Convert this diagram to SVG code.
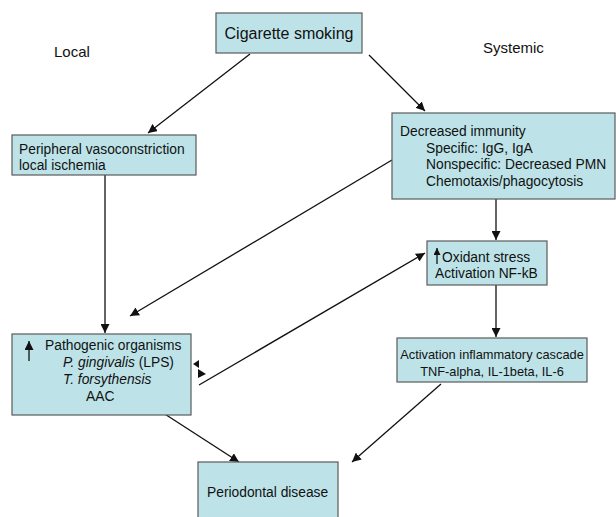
<svg xmlns="http://www.w3.org/2000/svg" width="616" height="517" viewBox="0 0 616 517">
<defs>
<style>
.box{fill:#bde3e8;stroke:#5a5a5a;stroke-width:1.2}
.t{font-family:"Liberation Sans",Arial,sans-serif;font-size:13.8px;fill:#111}
.big{font-size:16px}
.lbl{font-size:15px}
.sm{font-size:12.8px}
.c{stroke:#111;stroke-width:1.3;fill:none}
</style>
<marker id="ah" viewBox="0 0 10 10" refX="10" refY="5" markerWidth="9" markerHeight="9" markerUnits="userSpaceOnUse" orient="auto">
<path d="M0,0 L10,5 L0,10 z" fill="#111"/>
</marker>
<marker id="ahs" viewBox="0 0 10 10" refX="10" refY="5" markerWidth="7" markerHeight="7" markerUnits="userSpaceOnUse" orient="auto">
<path d="M0,0 L10,5 L0,10 z" fill="#111"/>
</marker>
</defs>
<rect width="616" height="517" fill="#fff"/>
<text class="t lbl" x="54" y="57">Local</text>
<text class="t lbl" x="483" y="53">Systemic</text>
<g id="connectors">
<line class="c" x1="250" y1="54" x2="148" y2="133" marker-end="url(#ah)"/>
<line class="c" x1="369" y1="55" x2="425" y2="111" marker-end="url(#ah)"/>
<line class="c" x1="105" y1="175" x2="105" y2="333" marker-end="url(#ah)"/>
<line class="c" x1="392" y1="160" x2="130" y2="316" marker-end="url(#ah)"/>
<line class="c" x1="496" y1="199" x2="496" y2="240" marker-end="url(#ah)"/>
<line class="c" x1="199" y1="385" x2="425" y2="253" marker-end="url(#ah)"/>
<line class="c" x1="496" y1="285" x2="496" y2="337" marker-end="url(#ah)"/>
<line class="c" x1="140" y1="398" x2="239" y2="462" marker-end="url(#ah)"/>
<line class="c" x1="441" y1="384" x2="352" y2="462" marker-end="url(#ah)"/>
<polygon points="193,364 199,360 199,368" fill="#111"/>
<polygon points="206,374 198,369 198,378" fill="#111"/>
</g>
<g id="cigarette">
<rect class="box" x="216" y="13" width="146" height="40"/>
<text class="t big" x="289" y="39" text-anchor="middle">Cigarette smoking</text>
</g>
<g id="peripheral">
<rect class="box" x="12" y="135" width="184" height="40"/>
<text class="t" x="19" y="154">Peripheral vasoconstriction</text>
<text class="t" x="19" y="170">local ischemia</text>
</g>
<g id="immunity">
<rect class="box" x="392" y="113" width="223" height="86"/>
<text class="t" x="400" y="136">Decreased immunity</text>
<text class="t" x="426" y="153">Specific: IgG, IgA</text>
<text class="t" x="426" y="169">Nonspecific: Decreased PMN</text>
<text class="t" x="426" y="186">Chemotaxis/phagocytosis</text>
</g>
<g id="oxidant">
<rect class="box" x="427" y="241" width="120" height="44"/>
<line class="c" x1="437" y1="264" x2="437" y2="248" marker-end="url(#ahs)"/>
<text class="t" x="442" y="262">Oxidant stress</text>
<text class="t" x="435" y="278">Activation NF-kB</text>
</g>
<g id="pathogenic">
<rect class="box" x="12" y="334" width="179" height="81"/>
<line class="c" x1="29" y1="361" x2="29" y2="341" marker-end="url(#ah)"/>
<text class="t" x="45" y="350">Pathogenic organisms</text>
<text class="t" x="63" y="367"><tspan font-style="italic">P. gingivalis</tspan> (LPS)</text>
<text class="t" x="63" y="384" font-style="italic">T. forsythensis</text>
<text class="t" x="86" y="401">AAC</text>
</g>
<g id="inflammatory">
<rect class="box" x="397" y="338" width="190" height="44"/>
<text class="t sm" x="492" y="359" text-anchor="middle">Activation inflammatory cascade</text>
<text class="t sm" x="492" y="376" text-anchor="middle">TNF-alpha, IL-1beta, IL-6</text>
</g>
<g id="periodontal">
<rect class="box" x="198" y="462" width="140" height="60"/>
<text class="t" x="207" y="497">Periodontal disease</text>
</g>
</svg>
